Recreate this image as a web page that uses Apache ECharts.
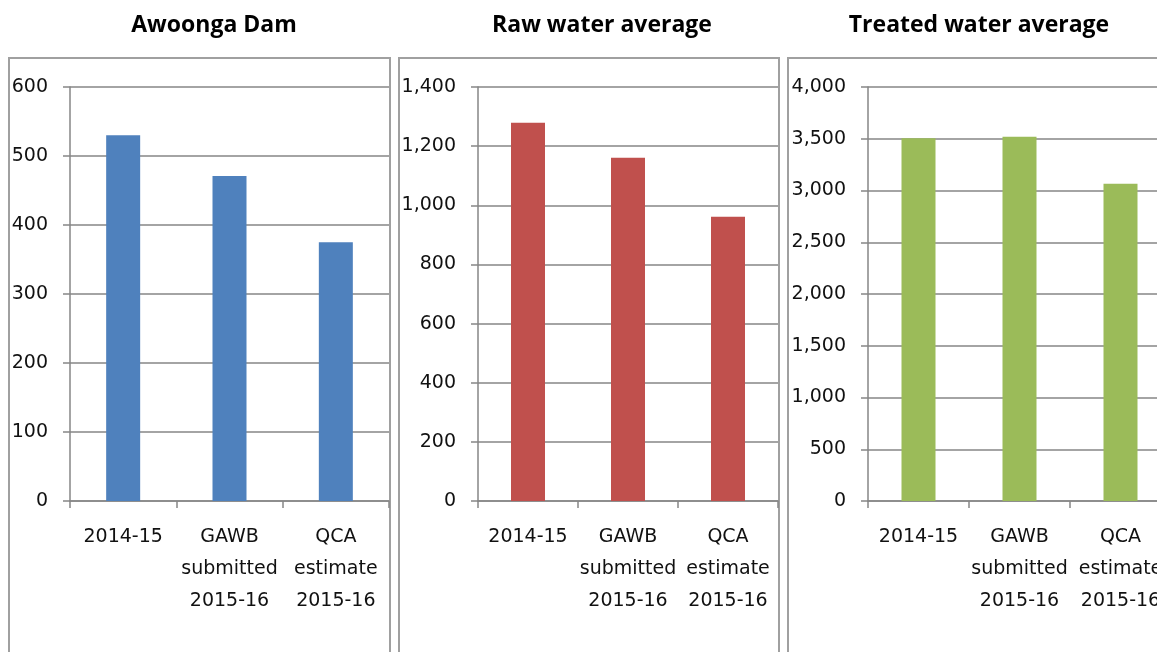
<!DOCTYPE html>
<html>
<head>
<meta charset="utf-8">
<script src="https://cdn.jsdelivr.net/npm/echarts@6/dist/echarts.min.js"></script>
<style>
html, body { margin: 0; padding: 0; background: #fff; overflow: hidden; }
#main { width: 1200px; height: 652px; }
</style>
</head>
<body>
<div id="main"></div>
<script>
const categories = ['2014-15', 'GAWB\nsubmitted\n2015-16', 'QCA\nestimate\n2015-16'];
const titles = ['Awoonga Dam', 'Raw water average', 'Treated water average'];
const damValues = [530, 471, 375];
const rawValues = [1279, 1161, 961];
const treatedValues = [3505, 3520, 3065];
const yMax = [600, 1400, 4000];
const yStep = [100, 200, 500];

const colors = ['#4F81BD', '#C0504D', '#9BBB59'];
const seriesData = [damValues, rawValues, treatedValues];

// panel geometry (px); canvas is wider than the window so the third panel runs off the edge
const grids = [
  { left: 70, width: 319, top: 87, bottom: 151 },
  { left: 478, width: 300, top: 87, bottom: 151 },
  { left: 868, width: 303, top: 87, bottom: 151 },
];
const titleX = [209, 597, 974];
const panels = [[9, 390], [399, 779], [788, 1190]];

const axisGray = '#868686';
const labelFont = { fontFamily: 'DejaVu Sans', fontSize: 19, color: '#111' };

const option = {
  animation: false,
  backgroundColor: '#fff',
  title: titles.map((t, i) => ({
    text: t,
    left: titleX[i],
    top: 9,
    textAlign: 'center',
    textStyle: { fontFamily: 'Open Sans', fontWeight: 'bold', fontSize: 23, color: '#000' },
  })),
  grid: grids.map((g) => Object.assign({ containLabel: false }, g)),
  xAxis: grids.map((g, i) => ({
    type: 'category',
    gridIndex: i,
    data: categories,
    axisLine: { lineStyle: { color: axisGray, width: 1.5 } },
    axisTick: { show: true, length: 7, lineStyle: { color: axisGray, width: 1.5 } },
    axisLabel: Object.assign({ margin: 20, lineHeight: 32, interval: 0 }, labelFont),
  })),
  yAxis: grids.map((g, i) => ({
    type: 'value',
    gridIndex: i,
    min: 0,
    max: yMax[i],
    interval: yStep[i],
    axisLine: { show: true, lineStyle: { color: axisGray, width: 1.5 } },
    axisTick: { show: true, length: 7, lineStyle: { color: axisGray, width: 1.5 } },
    splitLine: { lineStyle: { color: axisGray, width: 1.5 } },
    axisLabel: Object.assign({
      margin: 22,
      formatter: (v) => v.toLocaleString('en-US'),
    }, labelFont),
  })),
  series: seriesData.map((d, i) => ({
    type: 'bar',
    xAxisIndex: i,
    yAxisIndex: i,
    data: d,
    barWidth: 34,
    itemStyle: { color: colors[i] },
  })),
  graphic: panels.map(([x0, x1]) => ({
    type: 'rect',
    shape: { x: x0, y: 58, width: x1 - x0, height: 620 },
    style: { fill: null, stroke: '#a0a0a0', lineWidth: 2 },
    silent: true,
  })),
};

const myChart = echarts.init(document.getElementById('main'));
myChart.setOption(option);
</script>
</body>
</html>
